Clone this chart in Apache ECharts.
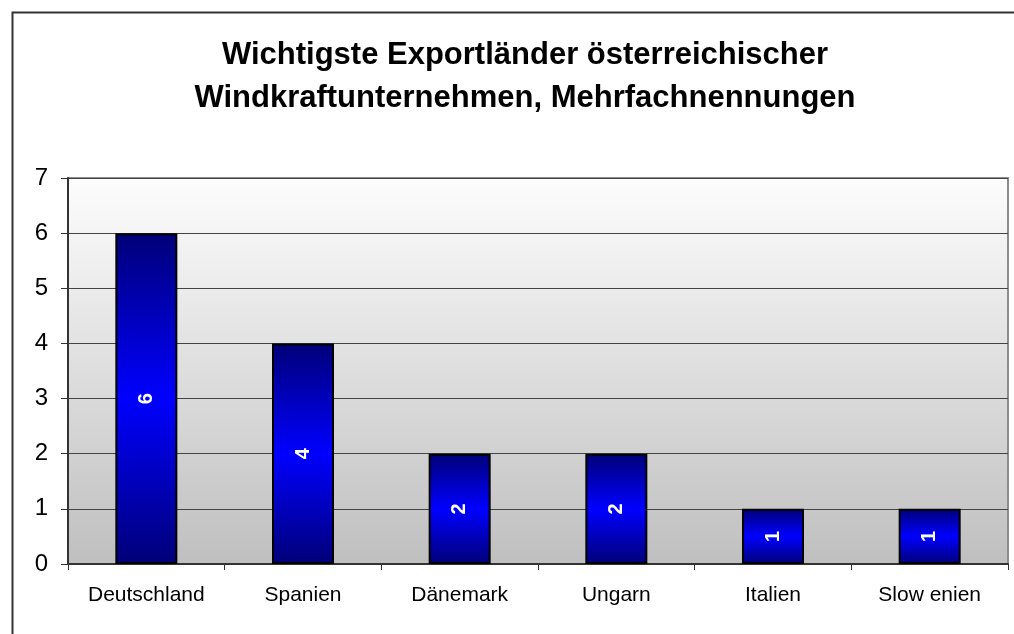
<!DOCTYPE html>
<html>
<head>
<meta charset="utf-8">
<script src="https://cdn.jsdelivr.net/npm/echarts@6/dist/echarts.min.js"></script>
<style>html,body{margin:0;padding:0;background:#fff;}#c{width:1014px;height:634px;}</style>
</head>
<body>
<div id="c"></div>
<script>
const titleLines = ["Wichtigste Exportländer österreichischer", "Windkraftunternehmen, Mehrfachnennungen"];
const categories = ["Deutschland", "Spanien", "Dänemark", "Ungarn", "Italien", "Slow enien"];
const values = [6, 4, 2, 2, 1, 1];
const yMin = 0, yMax = 7, yStep = 1;

const chart = echarts.init(document.getElementById('c'), null, {renderer: 'canvas'});
const font = "'Liberation Sans', Arial, sans-serif";
chart.setOption({
  animation: false,
  backgroundColor: '#fff',
  title: {
    text: titleLines.join('\n'),
    left: 520, textAlign: 'center', top: 29,
    textStyle: {fontFamily: font, fontWeight: 'bold', fontSize: 31, color: '#000', lineHeight: 43}
  },
  graphic: [{
    type: 'rect', left: 10, top: 10, z: -10,
    shape: {width: 1100, height: 700},
    style: {fill: 'none', stroke: '#333', lineWidth: 2}
  }],
  grid: {
    left: 68, top: 178, right: 6, bottom: 70,
    show: true,
    borderColor: '#8c8c8c', borderWidth: 2,
    backgroundColor: new echarts.graphic.LinearGradient(0, 0, 0, 1, [
      {offset: 0, color: '#fdfdfd'}, {offset: 1, color: '#bfbfbf'}
    ])
  },
  xAxis: {
    type: 'category', data: categories,
    axisLine: {lineStyle: {color: '#333', width: 2}},
    axisTick: {show: true, length: 6, lineStyle: {color: '#333'}},
    axisLabel: {fontFamily: font, fontSize: 21, color: '#000', margin: 21}
  },
  yAxis: {
    type: 'value', min: yMin, max: yMax, interval: yStep,
    axisLine: {show: true, lineStyle: {color: '#333', width: 2}},
    axisTick: {show: true, length: 7, lineStyle: {color: '#333'}},
    axisLabel: {fontFamily: font, fontSize: 24, color: '#000', margin: 20},
    splitLine: {show: true, lineStyle: {color: '#444', width: 1}}
  },
  series: [{
    type: 'bar', data: values, barWidth: 62,
    itemStyle: {
      color: new echarts.graphic.LinearGradient(0, 0, 0, 1, [
        {offset: 0, color: '#000078'}, {offset: 0.5, color: '#0000ff'}, {offset: 1, color: '#000078'}
      ]),
      borderColor: '#000', borderWidth: 2
    },
    label: {
      show: true, position: 'inside', rotate: 90,
      fontFamily: font, fontWeight: 'bold', fontSize: 20, color: '#fff'
    }
  }]
});
</script>
</body>
</html>
